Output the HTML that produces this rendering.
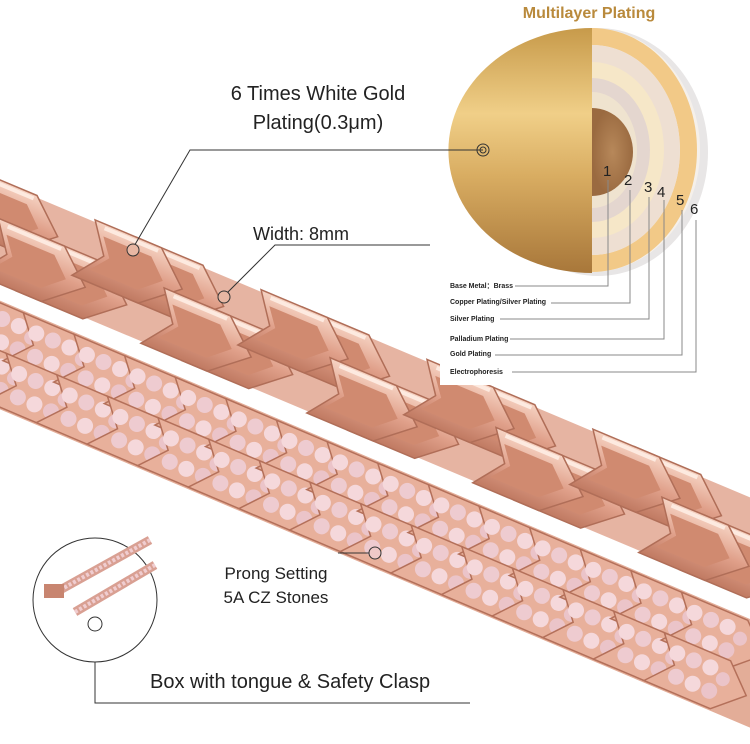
<!DOCTYPE html>
<html><head><meta charset="utf-8"><style>
body{margin:0;background:#fff;width:750px;height:739px;overflow:hidden;font-family:"Liberation Sans",sans-serif}
</style></head><body>
<svg width="750" height="739" viewBox="0 0 750 739" xmlns="http://www.w3.org/2000/svg">
<defs>
<linearGradient id="gold" x1="0" y1="0" x2="0" y2="1">
<stop offset="0" stop-color="#c79a4a"/><stop offset="0.35" stop-color="#f0cf88"/><stop offset="0.6" stop-color="#d9ad62"/><stop offset="1" stop-color="#a8773a"/></linearGradient>
<radialGradient id="core"><stop offset="0" stop-color="#b7885a"/><stop offset="1" stop-color="#9a6a40"/></radialGradient>
<linearGradient id="rose" x1="0" y1="0" x2="0" y2="1">
<stop offset="0" stop-color="#f6d3c3"/><stop offset="0.5" stop-color="#e0a08a"/><stop offset="1" stop-color="#c07a62"/></linearGradient>
<g id="link1">
<path d="M-52,-30 L20,-30 L55,0 L20,30 L-52,30 L-30,0 Z" fill="url(#rose)" stroke="#b06e58" stroke-width="1.5"/>
<path d="M-38,-18 L14,-18 L34,0 L14,18 L-38,18 L-24,0 Z" fill="#d08a70"/>
<path d="M-40,-26 L18,-26" stroke="#fdeae0" stroke-width="4"/>
</g>
<g id="link2">
<path d="M-50,-26 L22,-26 L50,0 L22,26 L-50,26 L-28,0 Z" fill="#e8b09b" stroke="#b4705a" stroke-width="1.5"/>
<circle cx="-30" cy="-12" r="8" fill="#f5d8db"/><circle cx="-12" cy="-12" r="8" fill="#eecbd0"/><circle cx="6" cy="-12" r="8" fill="#f5d8db"/><circle cx="22" cy="-6" r="7" fill="#ebc4c9"/>
<circle cx="-22" cy="10" r="8" fill="#eecbd0"/><circle cx="-4" cy="10" r="8" fill="#f5d8db"/><circle cx="14" cy="10" r="8" fill="#ebc4c9"/>
</g>
</defs>

<!-- chain 1 -->
<g transform="translate(0,232) rotate(22.8)">
<rect x="-40" y="-46" width="900" height="92" fill="#e6b4a2"/>
<use href="#link1" x="0" y="-18"/><use href="#link1" x="90" y="18"/><use href="#link1" x="180" y="-18"/><use href="#link1" x="270" y="18"/><use href="#link1" x="360" y="-18"/><use href="#link1" x="450" y="18"/><use href="#link1" x="540" y="-18"/><use href="#link1" x="630" y="18"/><use href="#link1" x="720" y="-18"/><use href="#link1" x="810" y="18"/>
<use href="#link1" x="45" y="18"/><use href="#link1" x="135" y="-18"/><use href="#link1" x="225" y="18"/><use href="#link1" x="315" y="-18"/><use href="#link1" x="405" y="18"/><use href="#link1" x="495" y="-18"/><use href="#link1" x="585" y="18"/><use href="#link1" x="675" y="-18"/><use href="#link1" x="765" y="18"/>
</g>

<!-- chain 2 -->
<g transform="translate(0,355) rotate(23)">
<rect x="-40" y="-50" width="900" height="100" fill="#e3ad98"/>
<use href="#link2" x="0" y="-22"/><use href="#link2" x="0" y="22"/>
<use href="#link2" x="55" y="-22"/><use href="#link2" x="55" y="22"/>
<use href="#link2" x="110" y="-22"/><use href="#link2" x="110" y="22"/>
<use href="#link2" x="165" y="-22"/><use href="#link2" x="165" y="22"/>
<use href="#link2" x="220" y="-22"/><use href="#link2" x="220" y="22"/>
<use href="#link2" x="275" y="-22"/><use href="#link2" x="275" y="22"/>
<use href="#link2" x="330" y="-22"/><use href="#link2" x="330" y="22"/>
<use href="#link2" x="385" y="-22"/><use href="#link2" x="385" y="22"/>
<use href="#link2" x="440" y="-22"/><use href="#link2" x="440" y="22"/>
<use href="#link2" x="495" y="-22"/><use href="#link2" x="495" y="22"/>
<use href="#link2" x="550" y="-22"/><use href="#link2" x="550" y="22"/>
<use href="#link2" x="605" y="-22"/><use href="#link2" x="605" y="22"/>
<use href="#link2" x="660" y="-22"/><use href="#link2" x="660" y="22"/>
<use href="#link2" x="715" y="-22"/><use href="#link2" x="715" y="22"/>
<use href="#link2" x="770" y="-22"/><use href="#link2" x="770" y="22"/>
</g>

<!-- plating diagram -->
<rect x="440" y="0" width="310" height="385" fill="#fff"/>
<text x="589" y="18" font-size="16" font-weight="bold" fill="#b98a3c" text-anchor="middle">Multilayer Plating</text>
<ellipse cx="598" cy="152" rx="110" ry="124" fill="#e8e6e6"/>
<path d="M592,28 A108,122 0 0 1 592,272 Z" fill="#f5f0ea"/>
<path d="M592,28 A105,122 0 0 1 592,272 L592,255 A88,105 0 0 0 592,45 Z" fill="#f2c987"/>
<path d="M592,45 A88,105 0 0 1 592,255 Z" fill="#eedfd2"/>
<path d="M592,62 A72,88 0 0 1 592,238 Z" fill="#f6e7c8"/>
<path d="M592,78 A58,72 0 0 1 592,222 Z" fill="#e4d6cf"/>
<path d="M592,92 A45,58 0 0 1 592,208 Z" fill="#efe3cf"/>
<path d="M592,108 A41,44 0 0 1 592,196 Z" fill="url(#core)"/>
<path d="M592,28 A143,122 0 0 0 592,273 Z" fill="url(#gold)"/>
<g font-size="15" fill="#222">
<text x="603" y="176">1</text><text x="624" y="185">2</text><text x="644" y="192">3</text><text x="657" y="197">4</text><text x="676" y="205">5</text><text x="690" y="214">6</text>
</g>
<g fill="none" stroke="#888" stroke-width="1">
<path d="M515,286 H608 V180"/><path d="M551,303 H630 V190"/><path d="M500,319 H649 V197"/><path d="M510,339 H664 V200"/><path d="M495,355 H682 V210"/><path d="M512,372 H696 V220"/>
</g>
<g font-size="7" fill="#222" font-weight="bold">
<text x="450" y="288">Base Metal：Brass</text><text x="450" y="304">Copper Plating/Silver Plating</text><text x="450" y="321">Silver Plating</text><text x="450" y="341">Palladium Plating</text><text x="450" y="356">Gold Plating</text><text x="450" y="374">Electrophoresis</text>
</g>

<!-- callouts -->
<g fill="none" stroke="#333" stroke-width="1">
<path d="M483,150 H190 L133,248"/><circle cx="483" cy="150" r="6"/><circle cx="483" cy="150" r="3"/>
<circle cx="133" cy="250" r="6" fill="#e8b7a3"/>
<path d="M430,245 H275 L224,296"/><circle cx="224" cy="297" r="6" fill="#e8b7a3"/>
<path d="M338,553 H370"/><circle cx="375" cy="553" r="6" fill="#efc9c8"/>
<path d="M95,625 V703 H470"/>
</g>
<g font-size="20" fill="#222">
<text x="318" y="100" text-anchor="middle">6 Times White Gold</text>
<text x="318" y="129" text-anchor="middle">Plating(0.3μm)</text>
<text x="253" y="240" font-size="18">Width:  8mm</text>
<text x="276" y="579" font-size="17" text-anchor="middle">Prong Setting</text>
<text x="276" y="603" font-size="17" text-anchor="middle">5A CZ Stones</text>
<text x="150" y="688">Box with tongue &amp; Safety Clasp</text>
</g>
<!-- inset -->
<circle cx="95" cy="600" r="62" fill="#fff" stroke="#333" stroke-width="1"/>
<path d="M60,590 L150,540 M75,612 L155,565" stroke="#d9a093" stroke-width="9"/>
<path d="M60,590 L150,540 M75,612 L155,565" stroke="#f0cdd0" stroke-width="4" stroke-dasharray="3 2"/>
<rect x="44" y="584" width="20" height="14" fill="#c88570"/>
<circle cx="95" cy="624" r="7" fill="none" stroke="#333"/>
</svg>
</body></html>
